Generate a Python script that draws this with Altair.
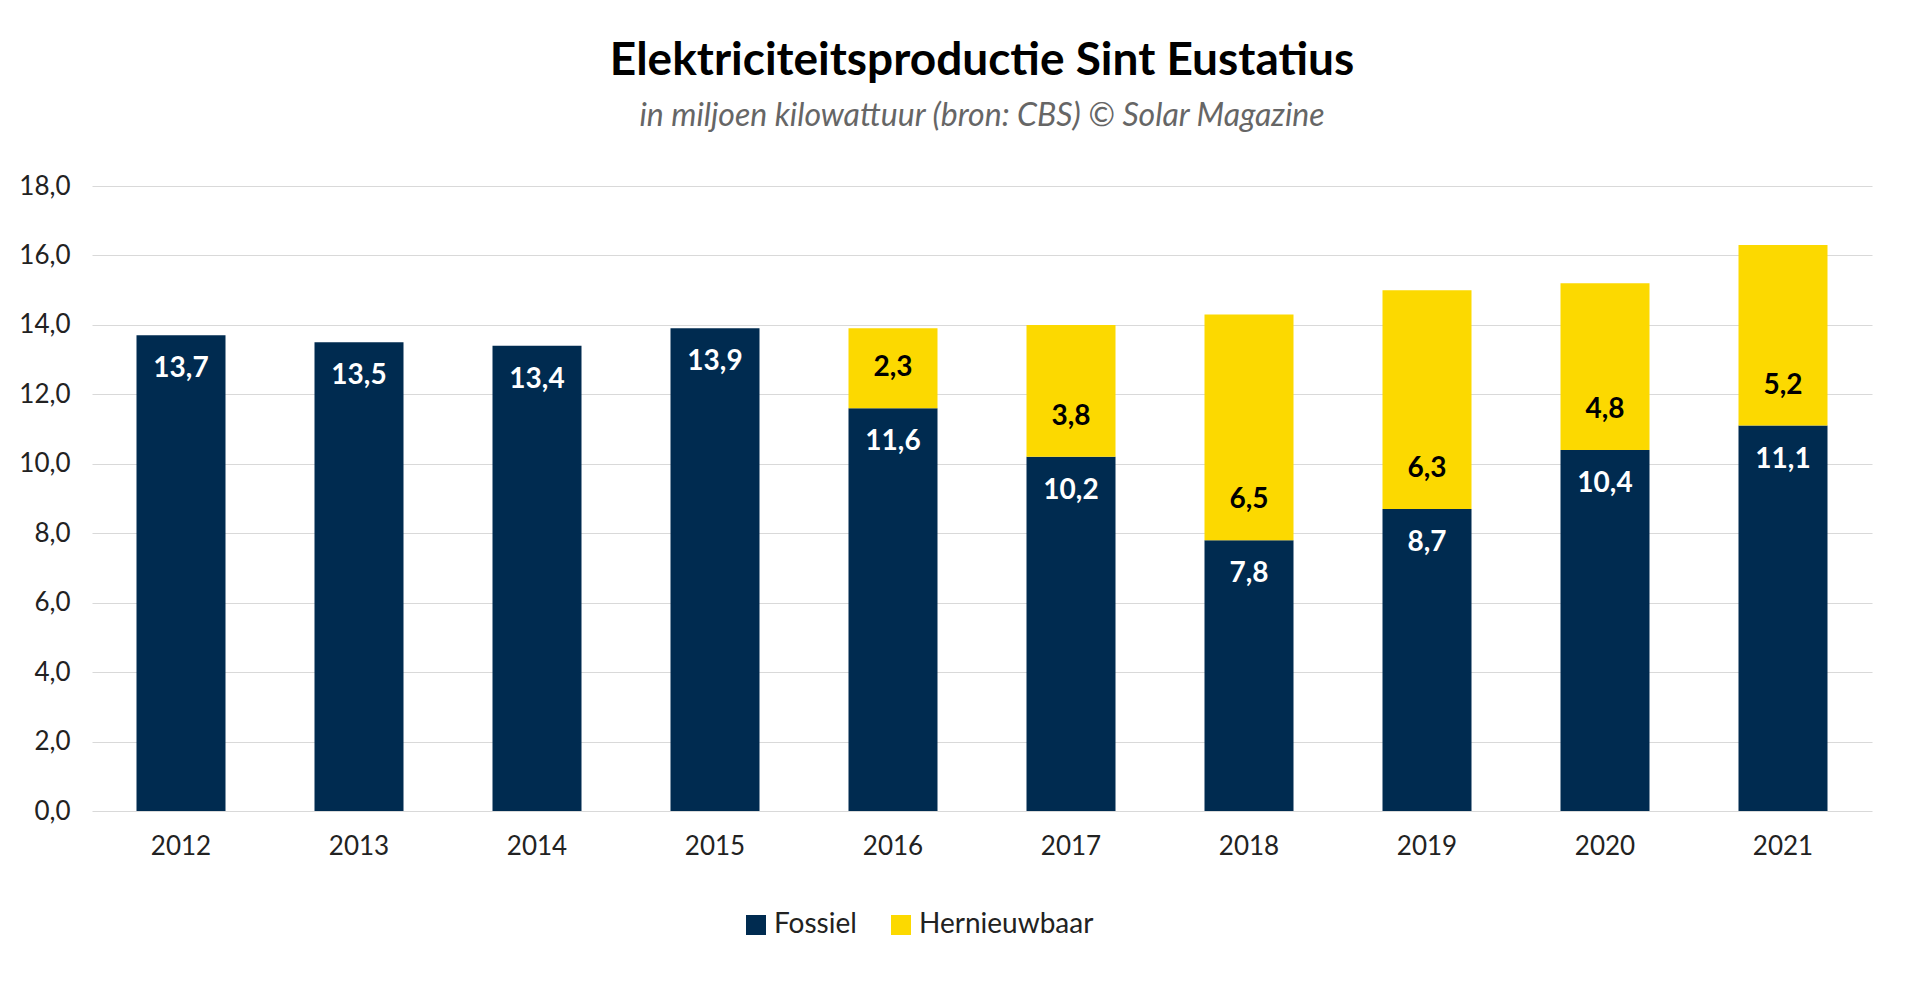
import altair as alt
import pandas as pd

years = ['2012', '2013', '2014', '2015', '2016', '2017', '2018', '2019', '2020', '2021']
fossiel = [13.7, 13.5, 13.4, 13.9, 11.6, 10.2, 7.8, 8.7, 10.4, 11.1]
hernieuwbaar = [0, 0, 0, 0, 2.3, 3.8, 6.5, 6.3, 4.8, 5.2]

rows = []
for y, f, h in zip(years, fossiel, hernieuwbaar):
    rows.append({'Jaar': y, 'Bron': 'Fossiel', 'Waarde': f, 'Volgorde': 0, 'Fossiel': f})
    rows.append({'Jaar': y, 'Bron': 'Hernieuwbaar', 'Waarde': h, 'Volgorde': 1, 'Fossiel': f})
df = pd.DataFrame(rows)

FONT = 'Lato'
x = alt.X('Jaar:N', title=None, scale=alt.Scale(paddingInner=0.5, paddingOuter=0.25),
          axis=alt.Axis(labelAngle=0, labelFontSize=26, labelColor='#222', labelPadding=22,
                        ticks=False, domain=False, labelFont=FONT))

bars = alt.Chart(df).mark_bar().encode(
    x=x,
    y=alt.Y('Waarde:Q', title=None, stack='zero',
            scale=alt.Scale(domain=[0, 18]),
            axis=alt.Axis(values=list(range(0, 19, 2)), labelFontSize=26, labelColor='#222',
                          labelExpr="replace(format(datum.value, '.1f'), '.', ',')",
                          domain=False, ticks=False, gridColor='#d9d9d9', labelPadding=22,
                          labelFont=FONT)),
    color=alt.Color('Bron:N', title=None,
                    scale=alt.Scale(domain=['Fossiel', 'Hernieuwbaar'], range=['#002b50', '#fcd900']),
                    legend=alt.Legend(orient='none', direction='horizontal', legendX=650, legendY=100 + 625,
                                      symbolType='square', symbolSize=400, labelLimit=300,
                                      labelFontSize=28, labelFont=FONT, labelColor='#222',
                                      columnPadding=30)),
    order=alt.Order('Volgorde:Q')
)

lab = "replace(format(datum.Waarde, '.1f'), '.', ',')"
fos_text = alt.Chart(df).transform_filter("datum.Bron == 'Fossiel'").transform_calculate(
    t=lab).mark_text(color='white', fontWeight='bold', fontSize=28, font=FONT, dy=34).encode(
    x=x, y=alt.Y('Waarde:Q'), text='t:N')

ren_text = alt.Chart(df).transform_filter("datum.Bron == 'Hernieuwbaar' && datum.Waarde > 0").transform_calculate(
    t=lab).mark_text(color='black', fontWeight='bold', fontSize=28, font=FONT, dy=-40).encode(
    x=x, y=alt.Y('Fossiel:Q'), text='t:N')

chart = alt.layer(bars, fos_text, ren_text).properties(
    width=1780, height=625,
    padding={'top': 30, 'left': 10, 'right': 10, 'bottom': 10},
    title=alt.TitleParams('Elektriciteitsproductie Sint Eustatius',
                          subtitle='in miljoen kilowattuur (bron: CBS) © Solar Magazine',
                          fontSize=46, font=FONT, fontWeight='bold', color='black',
                          subtitleFontSize=32, subtitleFont=FONT, subtitleFontStyle='italic',
                          subtitleColor='#666', subtitlePadding=16, offset=40, anchor='middle')
).configure_view(stroke=None)

chart.save("out.html", embed_options={"renderer": "svg", "actions": False})
